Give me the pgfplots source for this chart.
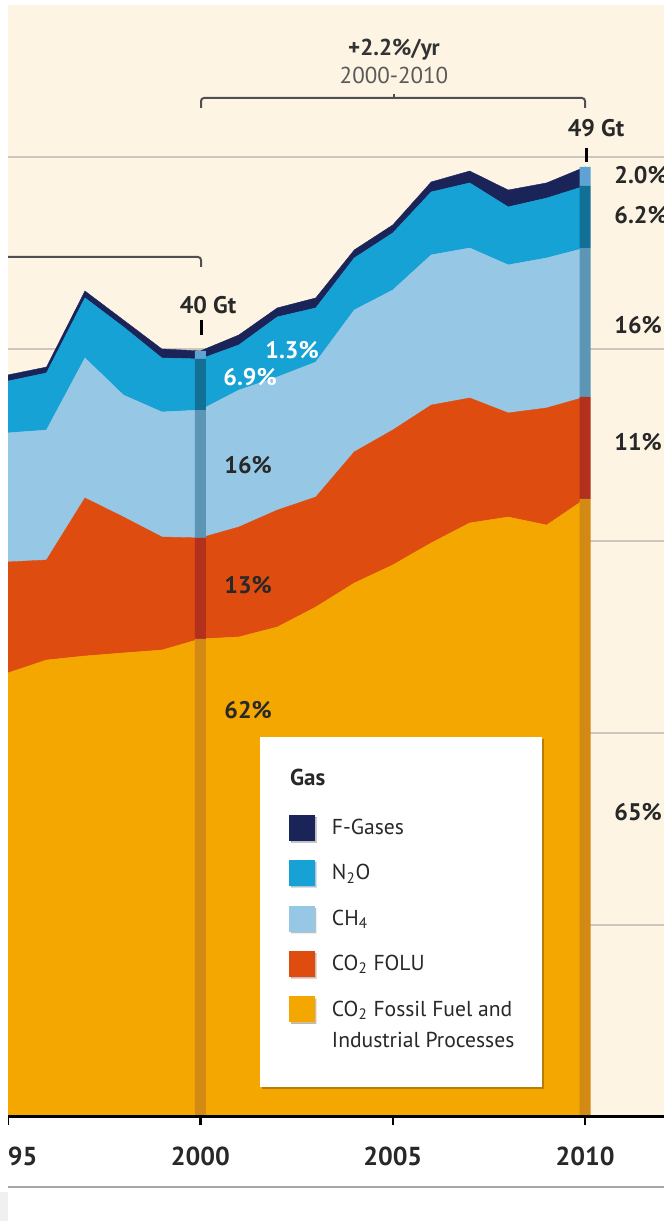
\documentclass[border=0pt]{standalone}
\usepackage{fontspec}
\setmainfont{PT Sans}
\usepackage{pgfplots}
\pgfplotsset{compat=1.18}
\usepackage{pgfplotstable}
\usetikzlibrary{shadows}

\definecolor{cream}{RGB}{253,244,228}
\definecolor{gridc}{RGB}{205,198,188}
\definecolor{cff}{RGB}{243,167,0}
\definecolor{cfolu}{RGB}{222,76,16}
\definecolor{cch4}{RGB}{150,200,230}
\definecolor{cn2o}{RGB}{22,162,212}
\definecolor{cfg}{RGB}{26,36,88}
\definecolor{bff}{RGB}{210,138,20}
\definecolor{bfolu}{RGB}{178,48,28}
\definecolor{bch4}{RGB}{92,150,180}
\definecolor{bn2o}{RGB}{18,112,150}
\definecolor{bfg}{RGB}{95,162,212}
\definecolor{brk}{RGB}{80,80,80}
\definecolor{txt}{RGB}{40,40,40}

% Gt CO2-eq/yr per gas
\pgfplotstableread{
year ff folu ch4 n2o fgas
1995 23.13 5.78 6.72 2.70 0.32
1996 23.80 5.21 6.77 2.97 0.31
1997 24.01 8.23 7.29 3.13 0.36
1998 24.17 7.08 6.35 3.55 0.36
1999 24.32 5.89 6.51 2.81 0.47
2000 24.90 5.26 6.66 2.66 0.42
2001 25.00 5.73 7.13 2.35 0.52
2002 25.52 6.09 6.93 3.13 0.47
2003 26.56 5.73 7.03 2.82 0.52
2004 27.81 6.83 7.39 2.71 0.42
2005 28.75 7.03 7.29 2.97 0.42
2006 29.90 7.18 7.82 3.28 0.52
2007 30.94 6.51 7.81 3.39 0.62
2008 31.25 5.42 7.71 3.02 0.88
2009 30.83 6.10 7.81 3.12 0.79
2010 32.19 5.31 7.76 3.23 0.99
}\emis

\pgfplotstableread{
year ff folu ch4 n2o fgas
2000 24.90 5.26 6.66 2.66 0.42
2010 32.19 5.31 7.76 3.23 0.99
}\bars

\newcommand\lab{\fontsize{12}{14}\selectfont\bfseries}
\newcommand\ffentry{\begin{tabular}[t]{@{}l@{}}CO\textsubscript{2} Fossil Fuel and\\[3pt]Industrial Processes\end{tabular}}

\begin{document}
\begin{tikzpicture}
\useasboundingbox (-4pt,-52pt) rectangle (328pt,558.5pt);
\fill[white] (-4pt,-52pt) rectangle (328pt,558.5pt);
\begin{axis}[
  scale only axis, width=328pt, height=556pt,
  xmin=1995, xmax=2012.05, ymin=0, ymax=57.917,
  axis background/.style={fill=cream},
  axis line style={draw=none},
  stack plots=y,
  xtick={1995,2000,2005,2010},
  xticklabels={1995,2000,2005,2010},
  xtick pos=left,
  tick align=outside,
  major tick length=4pt,
  x tick style={black, line width=1.2pt},
  xticklabel style={font=\fontsize{13}{13}\selectfont\bfseries, text=txt, yshift=-7.5pt},
  ytick={10,20,30,40,50},
  yticklabels={,,,,},
  y tick style={draw=none},
  ymajorgrids,
  grid style={gridc, line width=0.6pt},
  legend image code/.code={\fill[#1] (0pt,-2.75pt) rectangle (12.5pt,9.75pt);},
  reverse legend,
  legend style={at={(0.3841,0.3417)}, anchor=north west, fill=white, draw=none,
    inner xsep=14pt, inner ysep=16pt, row sep=10pt, column sep=9pt,
    cells={anchor=base west},
    nodes={inner sep=0pt, text depth={}, font=\fontsize{10.8}{12.5}\selectfont, text=txt},
    drop shadow={shadow xshift=1pt, shadow yshift=-1pt, opacity=0.25, fill=black}},
]
\addplot[fill=cff, draw=cff, line width=0.2pt] table[x=year,y=ff]{\emis} \closedcycle;
\addlegendentry{\ffentry}
\addplot[fill=cfolu, draw=cfolu, line width=0.2pt] table[x=year,y=folu]{\emis} \closedcycle;
\addlegendentry{CO\textsubscript{2} FOLU}
\addplot[fill=cch4, draw=cch4, line width=0.2pt] table[x=year,y=ch4]{\emis} \closedcycle;
\addlegendentry{CH\textsubscript{4}}
\addplot[fill=cn2o, draw=cn2o, line width=0.2pt] table[x=year,y=n2o]{\emis} \closedcycle;
\addlegendentry{N\textsubscript{2}O}
\addplot[fill=cfg, draw=cfg, line width=0.2pt] table[x=year,y=fgas]{\emis} \closedcycle;
\addlegendentry{F-Gases}
\addlegendimage{legend image code/.code={\node[anchor=base west, inner sep=0pt, font=\fontsize{11.5}{12}\selectfont\bfseries, text=txt] at (0pt,0pt) {\rlap{Gas}}; \path (0pt,-4.25pt);}}
\addlegendentry{}
\end{axis}

\begin{axis}[
  scale only axis, width=328pt, height=556pt,
  xmin=1995, xmax=2012.05, ymin=0, ymax=57.917,
  hide axis, ybar stacked, bar width=5.5pt,
]
\addplot[fill=bff, draw=none] table[x=year,y=ff]{\bars};
\addplot[fill=bfolu, draw=none] table[x=year,y=folu]{\bars};
\addplot[fill=bch4, draw=none] table[x=year,y=ch4]{\bars};
\addplot[fill=bn2o, draw=none] table[x=year,y=n2o]{\bars};
\addplot[fill=bfg, draw=none] table[x=year,y=fgas]{\bars};
\end{axis}

\begin{scope}[x=0.5pt, y=-0.5pt, shift={(-4pt,558.5pt)}]
  \draw[line width=1.5pt, black] (8,1117) -- (664,1117);
  \draw[line width=1pt, brk, rounded corners=1.5pt] (201,108) -- (201,98) -- (585,98) -- (585,108);
  \draw[line width=0.8pt, brk] (394,98) -- (394,94);
  \draw[line width=1pt, brk, rounded corners=1.5pt] (0,257) -- (201,257) -- (201,267);
  \node[font=\fontsize{11.5}{13}\selectfont\bfseries, text=black!80] at (394,50) {+2.2\%/yr};
  \node[font=\fontsize{11.5}{13}\selectfont, text=black!65] at (394,75) {2000-2010};
  \node[font=\lab, text=txt] at (208,305) {40 Gt};
  \draw[line width=1.5pt, black] (201,320) -- (201,335);
  \node[font=\lab, text=txt] at (596,128) {49 Gt};
  \draw[line width=1.5pt, black] (586,148) -- (586,162);
  % shares in 2000
  \begin{scope}[every node/.style={font=\lab, anchor=west, inner sep=0pt}]
  \node[text=white] at (265,350) {1.3\%};
  \node[text=white] at (223,377) {6.9\%};
  \node[text=txt] at (224,465) {16\%};
  \node[text=txt] at (224,585) {13\%};
  \node[text=txt] at (224,710) {62\%};
  % shares in 2010
  \node[text=txt] at (614,175) {2.0\%};
  \node[text=txt] at (614,215) {6.2\%};
  \node[text=txt] at (614,325) {16\%};
  \node[text=txt] at (614,442) {11\%};
  \node[text=txt] at (614,812) {65\%};
  \end{scope}
  % frame of the crop
  \fill[white] (0,0) rectangle (8,1221);
  \fill[gray!12] (0,1192) rectangle (8,1221);
  \draw[line width=1.2pt, gray!70] (8,1187) -- (664,1187);
\end{scope}
\end{tikzpicture}
\end{document}
